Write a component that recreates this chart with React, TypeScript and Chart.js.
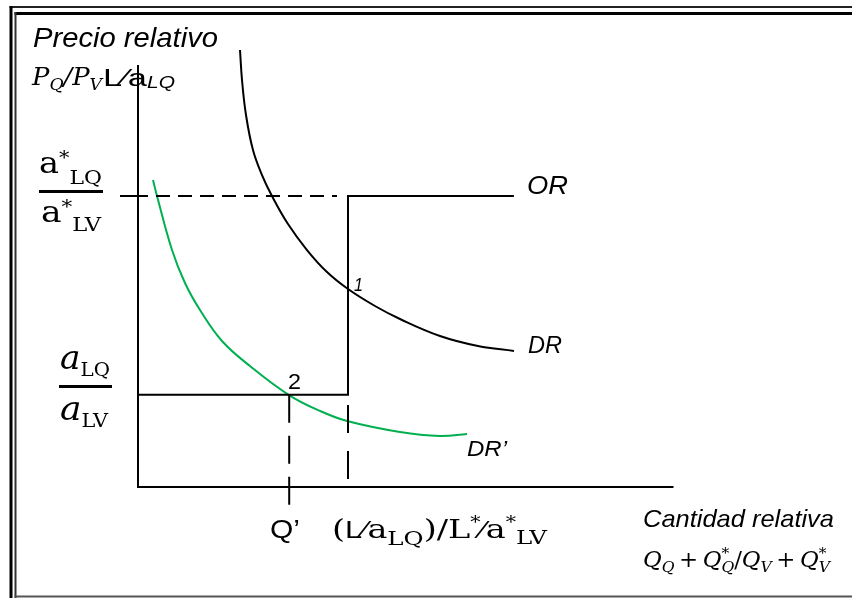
import React, { useEffect, useRef } from "react";
import { Chart, registerables } from "chart.js";
Chart.register(...registerables);

// ---------- data (chart units: relative quantity on x, relative price on y) ----------
const xAxisEnd = 10.2;
const yAxisTop = 4.35;
const worldPrice = 3.0; // a*LQ / a*LV
const autarkyPrice = 0.95; // aLQ / aLV
const supplyStepX = 4.0; // (L/aLQ)/(L*/a*LV)
const supplyEndX = 7.16;
const qPrimeX = 2.88;
const priceTickStart = -0.343;
const worldDashEnd = 3.79;
const qPrimeDropTo = -0.206;
const stepDashFrom = 0.845;
const stepDashTo = 0.05;

// DR (black relative demand)
const drX = [1.943, 1.981, 2.057, 2.19, 2.362, 2.552, 2.857, 3.219, 3.6, 4.0, 4.514, 4.99, 5.752, 6.476, 7.162];
const drY = [4.505, 4.196, 3.835, 3.474, 3.216, 3.0, 2.711, 2.443, 2.216, 2.041, 1.866, 1.732, 1.557, 1.454, 1.402];

// DR' (green relative demand)
const drpX = [0.286, 0.362, 0.648, 0.895, 1.181, 1.6, 2.133, 2.876, 3.467, 3.981, 4.99, 5.752, 6.267];
const drpY = [3.165, 3.0, 2.443, 2.103, 1.825, 1.505, 1.247, 0.948, 0.784, 0.68, 0.567, 0.526, 0.546];

// ---------- view ----------
const W = 852;
const H = 598;
const ORIGIN_PX = { x: 138, y: 487 };
const PX_PER_X = 52.5;
const PX_PER_Y = 97;

const SERIF = '"DejaVu Serif"';
const SANS = '"Liberation Sans"';
const GREEN = "#00B050";

type Run = { t: string; f: string; dy?: number; noAdv?: boolean };
type Label = { x: number; y: number; w?: number; runs: Run[] };

const labels: Label[] = [
  { x: 33, y: 47, w: 185, runs: [{ t: "Precio relativo", f: `italic 28px ${SANS}` }] },
  {
    x: 32,
    y: 85,
    w: 70,
    runs: [
      { t: "P", f: `italic 24px ${SERIF}` },
      { t: "Q", f: `italic 16px ${SERIF}`, dy: 5 },
      { t: "/", f: `italic 24px ${SERIF}` },
      { t: "P", f: `italic 24px ${SERIF}` },
      { t: "V", f: `italic 16px ${SERIF}`, dy: 5 },
    ],
  },
  { x: 103, y: 86, w: 44, runs: [{ t: "L⁄a", f: `23px ${SANS}` }] },
  { x: 147, y: 88, w: 28, runs: [{ t: "LQ", f: `italic 17px ${SANS}` }] },
  {
    x: 39,
    y: 173,
    w: 63,
    runs: [
      { t: "a", f: `29px ${SERIF}` },
      { t: "*", f: `18px ${SERIF}`, dy: -9 },
      { t: "LQ", f: `19px ${SERIF}`, dy: 11 },
    ],
  },
  {
    x: 41,
    y: 222,
    w: 60,
    runs: [
      { t: "a", f: `29px ${SERIF}` },
      { t: "*", f: `18px ${SERIF}`, dy: -9 },
      { t: "LV", f: `19px ${SERIF}`, dy: 9 },
    ],
  },
  {
    x: 60,
    y: 369,
    w: 50,
    runs: [
      { t: "a", f: `italic 33px ${SERIF}` },
      { t: "LQ", f: `19px ${SERIF}`, dy: 7 },
    ],
  },
  {
    x: 60,
    y: 420,
    w: 48,
    runs: [
      { t: "a", f: `italic 33px ${SERIF}` },
      { t: "LV", f: `19px ${SERIF}`, dy: 7 },
    ],
  },
  { x: 270, y: 538, w: 30, runs: [{ t: "Q’", f: `26px ${SANS}` }] },
  {
    x: 332,
    y: 538,
    w: 215,
    runs: [
      { t: "(", f: `26px ${SERIF}` },
      { t: "L⁄", f: `24px ${SANS}` },
      { t: "a", f: `26px ${SERIF}` },
      { t: "LQ", f: `19px ${SERIF}`, dy: 7 },
      { t: ")/L", f: `26px ${SERIF}` },
      { t: "*", f: `16px ${SERIF}`, dy: -10 },
      { t: "⁄", f: `24px ${SANS}` },
      { t: "a", f: `26px ${SERIF}` },
      { t: "*", f: `16px ${SERIF}`, dy: -10 },
      { t: "LV", f: `19px ${SERIF}`, dy: 6 },
    ],
  },
  { x: 643, y: 527, w: 191, runs: [{ t: "Cantidad relativa", f: `italic 24px ${SANS}` }] },
  {
    x: 643,
    y: 567,
    w: 187,
    runs: [
      { t: "Q", f: `italic 22px ${SERIF}` },
      { t: "Q", f: `italic 15px ${SERIF}`, dy: 5 },
      { t: "\u2009+\u2009", f: `22px ${SERIF}` },
      { t: "Q", f: `italic 22px ${SERIF}` },
      { t: "*", f: `15px ${SERIF}`, dy: -9, noAdv: true },
      { t: "Q", f: `italic 15px ${SERIF}`, dy: 5 },
      { t: "/", f: `22px ${SERIF}` },
      { t: "Q", f: `italic 22px ${SERIF}` },
      { t: "V", f: `italic 15px ${SERIF}`, dy: 5 },
      { t: "\u2009+\u2009", f: `22px ${SERIF}` },
      { t: "Q", f: `italic 22px ${SERIF}` },
      { t: "*", f: `15px ${SERIF}`, dy: -9, noAdv: true },
      { t: "V", f: `italic 15px ${SERIF}`, dy: 5 },
    ],
  },
  { x: 527, y: 194, w: 41, runs: [{ t: "OR", f: `italic 26px ${SANS}` }] },
  { x: 528, y: 353, w: 34, runs: [{ t: "DR", f: `italic 23px ${SANS}` }] },
  { x: 467, y: 456, w: 40, runs: [{ t: "DR’", f: `italic 22px ${SANS}` }] },
  { x: 354, y: 291, w: 9, runs: [{ t: "1", f: `italic 19px ${SANS}` }] },
  { x: 288, y: 389, w: 13, runs: [{ t: "2", f: `22px ${SANS}` }] },
];

function drawRuns(ctx: CanvasRenderingContext2D, l: Label) {
  ctx.save();
  let total = 0;
  for (const r of l.runs) {
    ctx.font = r.f;
    if (!r.noAdv) total += ctx.measureText(r.t).width;
  }
  const sx = l.w ? l.w / total : 1;
  ctx.translate(l.x, l.y);
  ctx.scale(sx, 1);
  ctx.fillStyle = "#000";
  ctx.textBaseline = "alphabetic";
  ctx.textAlign = "left";
  let cx = 0;
  for (const r of l.runs) {
    ctx.font = r.f;
    ctx.fillText(r.t, cx, r.dy || 0);
    if (!r.noAdv) cx += ctx.measureText(r.t).width;
  }
  ctx.restore();
}

const decoPlugin = {
  id: "deco",
  afterDraw(chart: any) {
    const ctx: CanvasRenderingContext2D = chart.ctx;
    ctx.save();
    // frame (double line)
    ctx.fillStyle = "#222";
    ctx.fillRect(9.5, 6, W - 9.5, 2);
    ctx.fillStyle = "#000";
    ctx.fillRect(14.5, 12, W - 14.5, 3);
    ctx.fillRect(9.5, 6, 3, H - 6);
    ctx.fillStyle = "#333";
    ctx.fillRect(14.5, 12, 2, H - 12);
    ctx.fillStyle = "#555";
    ctx.fillRect(14.5, 595.5, W - 14.5, 2);
    // fraction bars
    ctx.fillStyle = "#000";
    ctx.fillRect(39, 190, 64, 3);
    ctx.fillRect(59, 385, 53, 3);
    for (const l of labels) drawRuns(ctx, l);
    ctx.restore();
  },
};

const pts = (xs: number[], ys: number[]) => xs.map((x, i) => ({ x, y: ys[i] }));

export default function App() {
  const ref = useRef<HTMLCanvasElement | null>(null);
  useEffect(() => {
    if (!ref.current) return;
    const line = (data: any[], extra: any = {}) => ({
      data,
      showLine: true,
      borderColor: "#000",
      borderWidth: 2,
      pointRadius: 0,
      fill: false,
      tension: 0,
      clip: false,
      ...extra,
    });
    const chart = new Chart(ref.current, {
      type: "scatter",
      data: {
        datasets: [
          // axes
          line([{ x: 0, y: yAxisTop }, { x: 0, y: 0 }, { x: xAxisEnd, y: 0 }]),
          // world relative price: solid tick then dashed
          line([{ x: priceTickStart, y: worldPrice }, { x: 0, y: worldPrice }]),
          line([{ x: 0, y: worldPrice }, { x: worldDashEnd, y: worldPrice }], {
            borderDash: [14, 8],
            borderDashOffset: 4,
          }),
          // relative supply OR
          line([
            { x: 0, y: autarkyPrice },
            { x: supplyStepX, y: autarkyPrice },
            { x: supplyStepX, y: worldPrice },
            { x: supplyEndX, y: worldPrice },
          ]),
          // dashed verticals
          line([{ x: qPrimeX, y: autarkyPrice }, { x: qPrimeX, y: qPrimeDropTo }], {
            borderDash: [28, 13],
          }),
          line([{ x: supplyStepX, y: stepDashFrom }, { x: supplyStepX, y: stepDashTo }], {
            borderDash: [28, 18],
          }),
          // DR
          line(pts(drX, drY), { tension: 0.4, cubicInterpolationMode: "default" }),
          // DR'
          line(pts(drpX, drpY), {
            borderColor: GREEN,
            tension: 0.4,
            cubicInterpolationMode: "default",
          }),
        ],
      },
      options: {
        responsive: false,
        devicePixelRatio: 1,
        animation: false,
        layout: { padding: 0, autoPadding: false },
        plugins: { legend: { display: false }, tooltip: { enabled: false } },
        scales: {
          x: {
            type: "linear",
            display: false,
            min: -ORIGIN_PX.x / PX_PER_X,
            max: (W - ORIGIN_PX.x) / PX_PER_X,
          },
          y: {
            type: "linear",
            display: false,
            min: -(H - ORIGIN_PX.y) / PX_PER_Y,
            max: ORIGIN_PX.y / PX_PER_Y,
          },
        },
      } as any,
      plugins: [decoPlugin],
    });
    return () => chart.destroy();
  }, []);
  return (
    <div style={{ position: "fixed", left: 0, top: 0, width: W, height: H, background: "#fff" }}>
      <canvas ref={ref} width={W} height={H} style={{ display: "block" }} />
    </div>
  );
}
